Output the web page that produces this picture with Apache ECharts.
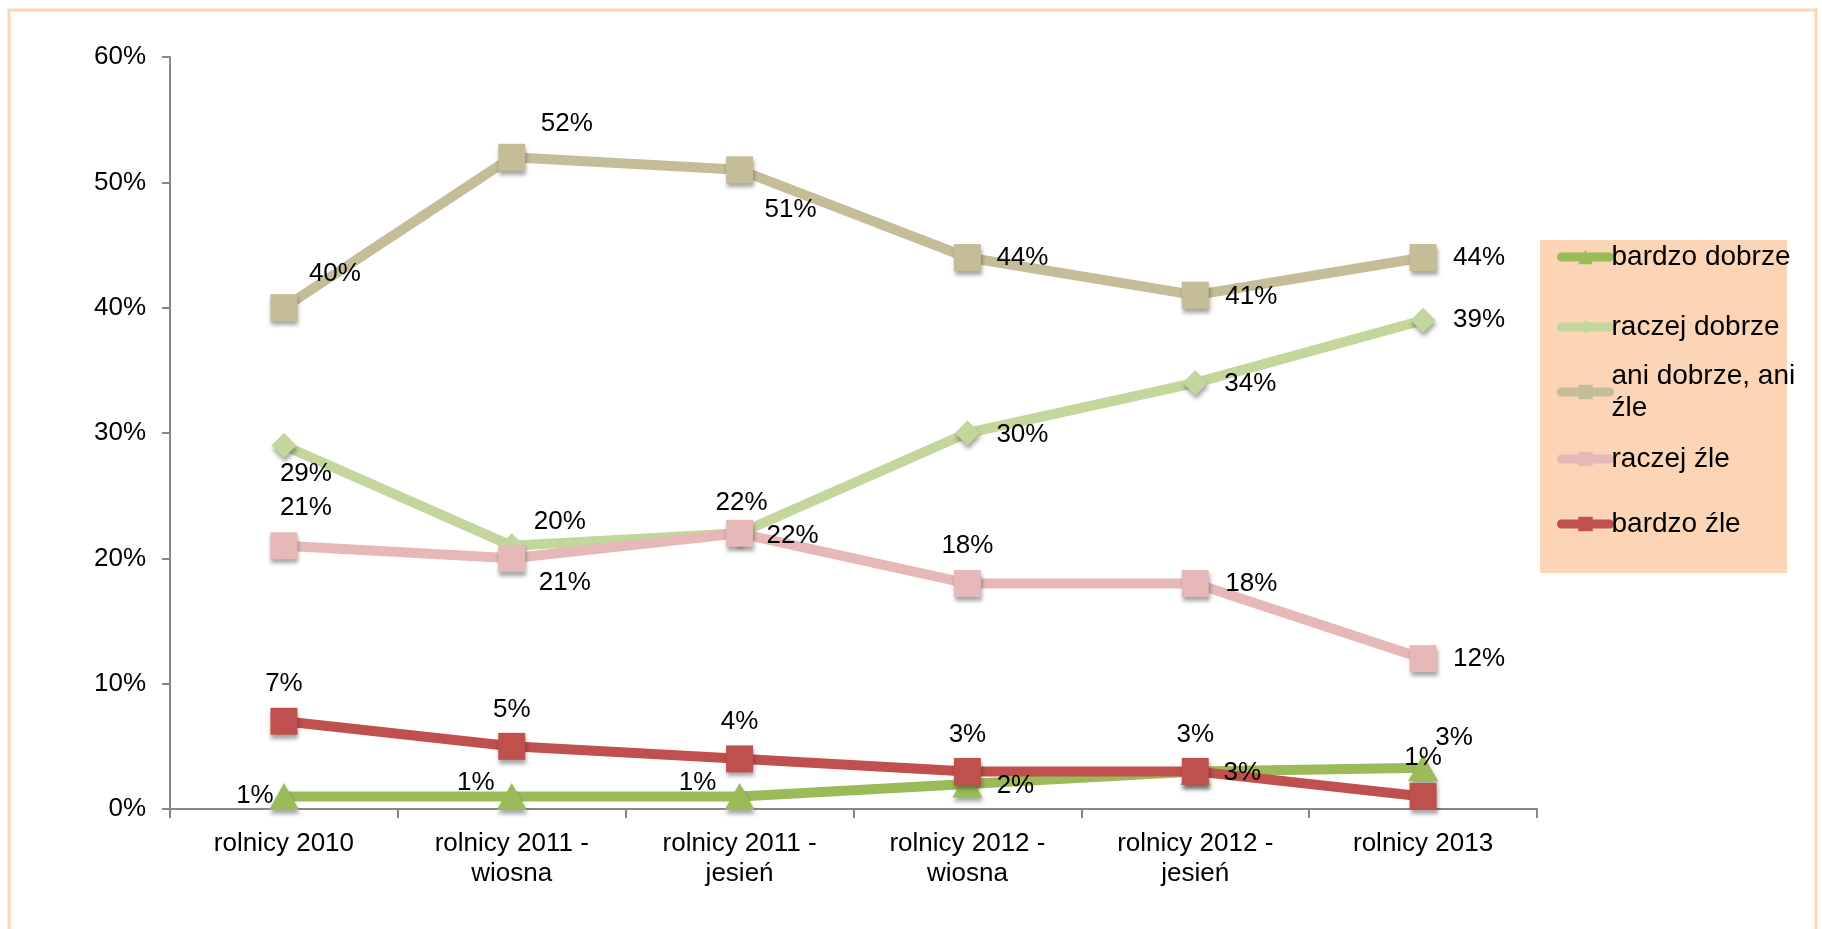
<!DOCTYPE html>
<html><head><meta charset="utf-8">
<script src="https://cdn.jsdelivr.net/npm/echarts@6/dist/echarts.min.js"></script>
<style>html,body{margin:0;padding:0;background:#fff}#c{width:1822px;height:929px}</style>
</head><body><div id="c"></div>
<script>
const categories = ['rolnicy 2010', 'rolnicy 2011 -\nwiosna', 'rolnicy 2011 -\njesień', 'rolnicy 2012 -\nwiosna', 'rolnicy 2012 -\njesień', 'rolnicy 2013'];
const seriesNames = ['bardzo dobrze', 'raczej dobrze', 'ani dobrze, ani źle', 'raczej źle', 'bardzo źle'];
const bardzoDobrze = [1, 1, 1, 2, 3, 3.3];
const raczejDobrze = [29, 21, 22, 30, 34, 39];
const aniDobrzeAniZle = [40, 52, 51, 44, 41, 44];
const raczejZle = [21, 20, 22, 18, 18, 12];
const bardzoZle = [7, 5, 4, 3, 3, 1];
const yTicks = [0, 10, 20, 30, 40, 50, 60];

// label offsets (layout only)
const labelOffsets = [
  [[-29, -1], [-36, -14], [-42, -14], [48, 2], [47, 1], [31, -30]],
  [[22, 28], [53, 37], [53, 3], [55, 2], [55, 1], [56, 0]],
  [[51, -34], [55, -33], [51, 40], [55, 0], [56, 2], [56, 0]],
  [[22, -38], [48, -37], [2, -30], [0, -38], [56, 0], [56, 0]],
  [[0, -37], [0, -37], [0, -37], [0, -37], [0, -37], [0, -39]]
];
const colors = ['#9BBB59', '#C3D69B', '#C4BD97', '#E6B9B8', '#C0504D'];
const symbols = ['triangle', 'diamond', 'rect', 'rect', 'rect'];
const symbolSizes = [[30, 27], 25, 27, 27, 27];
const values = [bardzoDobrze, raczejDobrze, aniDobrzeAniZle, raczejZle, bardzoZle];
const FONT = 'Liberation Sans, Arial, sans-serif';

const series = seriesNames.map((name, s) => ({
  name, type: 'line',
  data: values[s].map((v, i) => ({ value: v, label: { offset: labelOffsets[s][i] } })),
  symbol: symbols[s], symbolSize: symbolSizes[s],
  lineStyle: { color: colors[s], width: 10, cap: 'round', join: 'round' },
  itemStyle: { color: colors[s], shadowBlur: 4, shadowOffsetX: 1, shadowOffsetY: 4, shadowColor: 'rgba(0,0,0,0.35)' },
  label: { show: true, position: 'inside', align: 'center', verticalAlign: 'middle',
    formatter: p => Math.round(p.value) + '%', color: '#000', fontSize: 26, fontFamily: FONT },
  emphasis: { disabled: true },
  animation: false, z: 2
}));

const legendCenters = [258, 328, 395, 460, 525];
const legends = seriesNames.map((name, s) => {
  const twoLine = name === 'ani dobrze, ani źle';
  return {
    data: [name], orient: 'vertical', left: 1557,
    top: twoLine ? legendCenters[s] - 51 : legendCenters[s] - 17,
    itemWidth: 48, itemHeight: 18, padding: 0,
    lineStyle: { width: 9, cap: 'round' },
    itemStyle: { shadowBlur: 0, shadowOffsetX: 0, shadowOffsetY: 0 },
    formatter: n => n === 'ani dobrze, ani źle' ? 'ani dobrze, ani\nźle' : n,
    textStyle: { fontSize: 28, fontFamily: FONT, color: '#000', lineHeight: 32,
      padding: twoLine ? [32, 0, 0, -3] : [0, 0, 0, -3] },
    selectedMode: false
  };
});

const chart = echarts.init(document.getElementById('c'), null, { renderer: 'canvas' });
chart.setOption({
  animation: false,
  backgroundColor: '#fff',
  graphic: [
    { type: 'rect', shape: { x: 9, y: 10, width: 1807, height: 940 }, style: { fill: 'none', stroke: '#FCD5B4', lineWidth: 3 }, z: 0 },
    { type: 'rect', shape: { x: 1540, y: 240, width: 247, height: 333 }, style: { fill: '#FBD5B5' }, z: 0 }
  ],
  legend: legends,
  grid: { left: 170, right: 285, top: 57, bottom: 120, containLabel: false },
  xAxis: {
    type: 'category', data: categories, boundaryGap: true,
    axisLine: { lineStyle: { color: '#878787', width: 2 } },
    axisTick: { show: true, length: 9, alignWithLabel: false, lineStyle: { color: '#878787', width: 2 } },
    axisLabel: { color: '#000', fontSize: 26, fontFamily: FONT, lineHeight: 30, margin: 20, interval: 0 },
    splitLine: { show: false }
  },
  yAxis: {
    type: 'value', min: yTicks[0], max: yTicks[yTicks.length - 1], interval: 10,
    axisLine: { show: true, lineStyle: { color: '#878787', width: 2 } },
    axisTick: { show: true, length: 8, lineStyle: { color: '#878787', width: 2 } },
    axisLabel: { color: '#000', fontSize: 26, fontFamily: FONT, margin: 24, formatter: '{value}%' },
    splitLine: { show: false }
  },
  series
});
</script></body></html>
